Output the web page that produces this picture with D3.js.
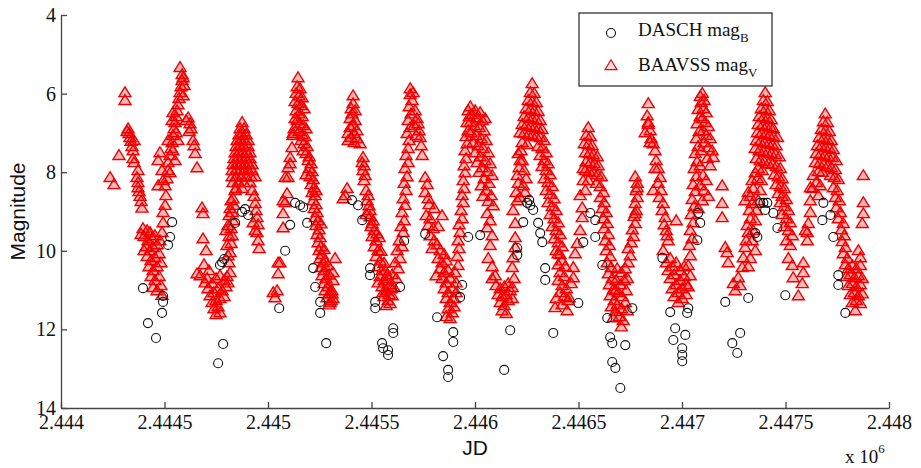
<!DOCTYPE html>
<html>
<head>
<meta charset="utf-8">
<script src="https://cdn.jsdelivr.net/npm/d3@7"></script>
<style>
  body { margin: 0; background: #fff; }
</style>
</head>
<body>
<div id="chart"></div>
<script>
// tick values / labels
var xTicks = [2444000, 2444500, 2445000, 2445500, 2446000, 2446500, 2447000, 2447500, 2448000];
var xTickLabels = ["2.444", "2.4445", "2.445", "2.4455", "2.446", "2.4465", "2.447", "2.4475", "2.448"];
var yTicks = [4, 6, 8, 10, 12, 14];

// legend text: [main, subscript]
var legendLabels = [["DASCH mag", "B"], ["BAAVSS mag", "V"]];

// DASCH photographic magnitudes [JD, mag]
var daschPoints = [
  [2444537,9.27],[2444527,9.65],[2444517,9.85],[2444396,10.95],[2444493,11.15],[2444493,11.3],[2444488,11.58],[2444420,11.84],[2444459,12.22],
  [2444778,10.29],[2444768,10.36],[2444788,10.21],[2444783,12.37],[2444759,12.86],
  [2444875,9.01],[2444904,9.09],[2444841,9.29],[2444889,8.94],
  [2445054,11.46],[2445083,10.0],[2445107,9.34],[2445131,8.78],[2445155,8.84],[2445170,8.89],[2445189,9.29],[2445218,10.44],[2445228,10.92],[2445252,11.3],[2445252,11.58],[2445281,12.35],
  [2445406,8.71],[2445435,8.84],[2445455,9.22],[2445493,10.44],[2445493,10.62],[2445518,11.3],[2445518,11.46],[2445605,11.97],[2445605,12.09],[2445551,12.35],[2445556,12.48],[2445580,12.53],[2445580,12.65],[2445638,10.92],[2445658,9.75],
  [2445759,9.57],[2445817,11.69],[2445846,12.68],[2445870,13.03],[2445870,13.21],[2445895,12.32],[2445895,12.07],[2445928,11.18],[2445938,10.87],[2445967,9.65],[2446025,9.6],
  [2446170,12.02],[2446141,13.03],[2446204,9.93],[2446204,10.11],[2446252,8.78],[2446267,8.84],[2446281,8.96],[2446262,8.71],[2446233,9.27],[2446305,9.29],[2446315,9.55],[2446325,9.78],[2446339,10.44],[2446339,10.74],[2446378,12.09],[2446499,11.33],
  [2446557,9.04],[2446581,9.22],[2446581,9.65],[2446523,9.78],[2446615,10.36],[2446639,11.71],[2446653,12.2],[2446663,12.35],[2446663,12.83],[2446678,12.98],[2446702,13.49],[2446726,12.4],[2446760,11.46],
  [2446905,10.18],[2446943,11.56],[2446967,11.97],[2447016,12.14],[2447030,11.46],[2447025,11.58],[2447001,12.48],[2447001,12.65],[2447001,12.81],[2446958,12.27],[2447074,9.73],[2447078,9.04],[2447088,9.29],
  [2447209,11.3],[2447243,12.35],[2447281,12.09],[2447267,12.6],[2447320,11.2],[2447364,9.65],
  [2447378,8.78],[2447393,8.78],[2447412,8.78],[2447402,8.96],[2447441,9.04],[2447461,9.42],[2447354,9.55],[2447499,11.13],
  [2447683,8.78],[2447717,9.09],[2447678,9.22],[2447731,9.65],[2447755,10.62],[2447755,10.87],[2447789,11.58]
];

// BAAVSS visual magnitudes [JD, mag]
var baavssPoints = [
  [2444237,8.12],[2444256,8.3],[2444280,7.56],[2444309,5.96],[2444309,6.16],[2444324,6.88],[2444329,7.0],[2444333,7.1],[2444338,7.2],[2444343,7.33],[2444348,7.44],[2444348,7.64],[2444353,7.74],[2444372,7.94],[2444367,8.12],[2444372,8.25],[2444372,8.38],[2444377,8.48],[2444382,8.6],[2444387,8.73],[2444391,8.9],[2444319,6.95],[2444353,7.18],
  [2444396,9.42],[2444416,9.47],[2444430,9.52],[2444401,9.62],[2444420,9.73],[2444440,9.68],[2444454,9.6],[2444411,9.88],[2444430,9.98],[2444445,9.9],[2444464,9.83],[2444478,9.73],[2444416,10.13],[2444435,10.23],[2444454,10.16],[2444474,10.06],[2444425,10.39],[2444445,10.49],[2444464,10.39],[2444483,10.29],[2444435,10.64],[2444454,10.74],[2444474,10.64],[2444445,10.92],[2444464,11.0],[2444483,10.87],[2444488,11.12],[2444401,9.98],[2444387,9.57],
  [2444488,9.52],[2444493,9.27],[2444493,9.01],[2444503,8.83],[2444507,8.58],[2444503,8.33],[2444512,8.15],[2444517,7.94],[2444517,7.74],[2444527,7.56],[2444532,7.38],[2444537,7.23],[2444541,7.05],[2444546,6.88],[2444551,6.72],[2444556,6.57],[2444561,6.42],[2444565,6.27],[2444570,6.11],[2444575,5.96],[2444580,5.81],[2444585,5.65],[2444585,5.5],[2444575,5.32],[2444590,5.58],[2444595,5.78],[2444590,6.04],[2444556,6.98],[2444565,7.18],[2444541,7.44],[2444551,7.69],[2444527,8.0],[2444478,7.49],[2444469,7.69],[2444488,7.94],[2444493,8.2],[2444469,8.33],[2444517,7.18],[2444537,6.67],[2444541,6.47],
  [2444614,6.6],[2444623,6.75],[2444628,6.88],[2444638,7.18],[2444643,7.31],[2444648,7.51],[2444657,7.87],[2444604,6.67],[2444619,6.95],[2444681,8.89],[2444686,9.04],[2444686,9.68],[2444701,9.98],[2444706,10.69],
  [2444672,10.62],[2444696,10.8],[2444710,10.95],[2444730,10.82],[2444749,10.69],[2444768,10.62],[2444788,10.74],[2444802,10.64],[2444720,11.13],[2444739,11.05],[2444759,10.95],[2444778,11.0],[2444797,10.9],[2444730,11.3],[2444749,11.25],[2444768,11.2],[2444788,11.15],[2444739,11.46],[2444759,11.41],[2444749,11.61],[2444768,11.56],[2444807,10.8],[2444817,10.54],[2444715,10.49],[2444657,10.57],[2444691,10.34],
  [2444812,10.29],[2444817,10.03],[2444822,9.8],[2444827,9.6],[2444822,9.42],[2444831,9.22],[2444827,9.01],[2444836,8.83],[2444831,8.66],[2444841,8.45],[2444807,10.11],[2444802,9.85],[2444812,9.62],[2444807,9.34],[2444812,9.09],[2444817,8.91],[2444822,8.71],[2444797,9.47],
  [2444875,6.72],[2444865,6.88],[2444884,6.88],[2444860,7.03],[2444875,7.03],[2444894,7.03],[2444851,7.18],[2444870,7.18],[2444889,7.18],[2444904,7.18],[2444846,7.33],[2444865,7.33],[2444884,7.33],[2444904,7.33],[2444841,7.49],[2444860,7.49],[2444879,7.49],[2444899,7.49],[2444913,7.49],[2444836,7.64],[2444855,7.64],[2444875,7.64],[2444894,7.64],[2444913,7.64],[2444831,7.79],[2444851,7.79],[2444870,7.79],[2444889,7.79],[2444908,7.79],[2444923,7.79],[2444827,7.94],[2444846,7.94],[2444865,7.94],[2444884,7.94],[2444904,7.94],[2444923,7.94],[2444827,8.1],[2444846,8.1],[2444870,8.1],[2444894,8.1],[2444918,8.1],[2444938,8.1],[2444831,8.25],[2444855,8.25],[2444884,8.25],[2444913,8.25],[2444846,8.4],[2444875,8.4],
  [2444923,8.45],[2444933,8.6],[2444938,8.78],[2444942,8.96],[2444947,9.14],[2444952,9.32],[2444947,9.52],[2444952,9.73],[2444957,9.93],[2444938,9.47],[2444928,9.27],
  [2445025,11.05],[2445034,11.18],[2445044,11.0],[2445049,10.57],[2445049,10.29],[2445058,10.29],[2445073,9.4],[2445073,9.04],[2445083,8.76],[2445073,8.71],[2445092,8.53],[2445083,8.12],[2445097,8.12],[2445097,7.87],[2445107,7.77],[2445107,7.61],[2445116,7.36],[2445121,7.05],[2445121,7.0],
  [2445145,5.58],[2445141,5.81],[2445155,5.86],[2445136,5.98],[2445150,6.04],[2445165,6.09],[2445131,6.19],[2445145,6.24],[2445160,6.29],[2445174,6.37],[2445136,6.42],[2445150,6.5],[2445165,6.57],[2445141,6.67],[2445155,6.75],[2445170,6.8],[2445184,6.88],[2445150,6.95],[2445165,7.03],[2445179,7.08],[2445160,7.18],[2445174,7.26],[2445189,7.33],[2445170,7.44],[2445184,7.51],[2445199,7.59],[2445126,6.88],[2445131,6.62],
  [2445194,7.69],[2445208,7.77],[2445199,7.89],[2445213,7.97],[2445203,8.1],[2445218,8.17],[2445208,8.3],[2445223,8.38],[2445213,8.5],[2445228,8.58],[2445218,8.71],[2445232,8.81],[2445223,8.91],[2445237,9.01],[2445228,9.14],[2445242,9.22],[2445232,9.34],[2445247,9.45],[2445237,9.57],[2445252,9.65],[2445242,9.78],[2445256,9.88],[2445247,9.98],[2445261,10.08],[2445252,10.18],[2445266,10.29],[2445256,10.41],[2445271,10.49],[2445261,10.62],[2445280,10.69],[2445271,10.82],[2445290,10.9],[2445276,11.0],[2445295,11.08],[2445285,11.18],[2445305,11.25],[2445295,11.36],[2445314,11.2],[2445276,10.24],[2445324,10.18],[2445290,10.36],[2445314,10.74],
  [2445184,8.05],[2445232,8.45],[2445256,9.3],[2445271,9.95],[2445295,10.6],[2445309,11.0],[2445314,10.54],[2445310,11.08],[2445300,11.3],
  [2445382,8.4],[2445363,8.66],[2445373,8.58],[2445411,6.04],[2445411,6.24],[2445402,6.37],[2445421,6.42],[2445406,6.5],[2445397,6.62],[2445421,6.67],[2445411,6.8],[2445397,6.85],[2445430,6.93],[2445387,7.0],[2445416,7.0],[2445402,7.1],[2445430,7.13],[2445387,7.18],[2445416,7.23],[2445445,7.26],
  [2445459,7.61],[2445455,7.74],[2445464,7.82],[2445459,7.94],[2445469,8.07],[2445464,8.2],[2445474,8.45],[2445484,8.58],[2445479,8.71],[2445488,8.84],[2445493,8.96],
  [2445493,9.12],[2445508,9.22],[2445498,9.37],[2445513,9.47],[2445503,9.62],[2445522,9.73],[2445513,9.88],[2445532,9.98],[2445522,10.13],[2445542,10.24],[2445532,10.39],[2445551,10.49],[2445542,10.64],[2445561,10.74],[2445551,10.9],[2445571,11.0],[2445561,11.15],[2445580,11.25],[2445571,11.38],[2445590,11.33],[2445600,11.13],[2445609,10.92],[2445590,10.85],[2445619,10.69],[2445600,10.59],[2445629,10.44],[2445614,10.29],[2445638,10.18],[2445624,9.98],[2445648,9.88],[2445634,9.73],[2445580,10.69],[2445566,10.49],[2445532,10.8],[2445556,11.05],[2445537,9.65],[2445474,9.06],
  [2445503,9.3],[2445527,9.55],[2445546,10.0],[2445561,10.3],[2445575,10.6],[2445595,10.95],[2445585,11.1],
  [2445653,9.52],[2445643,9.37],[2445658,9.22],[2445648,9.01],[2445662,8.83],[2445653,8.66],[2445667,8.45],[2445658,8.27],[2445672,8.1],[2445662,7.89],[2445677,7.74],[2445667,7.56],[2445677,7.38],[2445682,7.18],[2445672,7.0],[2445687,6.85],[2445677,6.67],[2445691,6.5],[2445682,6.32],[2445696,6.16],[2445687,6.01],[2445687,5.86],[2445701,5.96],
  [2445711,6.42],[2445720,6.62],[2445725,6.75],[2445730,6.93],[2445735,7.1],[2445740,7.31],[2445745,7.56],[2445706,6.8],[2445716,7.05],
  [2445759,8.12],[2445769,8.3],[2445759,8.5],[2445774,8.66],[2445778,8.81],[2445803,8.91],[2445764,9.09],[2445783,9.17],[2445774,9.34],[2445798,9.42],[2445783,9.6],[2445803,9.73],[2445817,9.83],[2445793,9.93],[2445822,9.37],[2445841,9.09],
  [2445832,9.98],[2445851,10.08],[2445822,10.18],[2445841,10.29],[2445861,10.24],[2445832,10.44],[2445851,10.54],[2445870,10.49],[2445841,10.69],[2445861,10.8],[2445880,10.69],[2445851,10.95],[2445870,11.05],[2445890,10.95],[2445861,11.2],[2445880,11.3],[2445899,11.2],[2445870,11.46],[2445890,11.56],[2445861,11.66],[2445880,11.71],[2445899,11.41],[2445909,11.05],[2445812,10.62],
  [2445909,10.8],[2445904,10.54],[2445918,10.36],[2445914,10.13],[2445923,9.93],[2445918,9.73],[2445928,9.52],[2445923,9.32],[2445938,9.17],[2445933,8.96],[2445943,8.76],[2445938,8.58],[2445947,8.4],[2445943,8.2],[2445952,8.0],[2445947,7.82],[2445957,7.64],[2445952,7.44],[2445962,7.26],[2445957,7.08],[2445967,6.93],[2445962,6.72],[2445972,6.57],[2445967,6.42],[2445977,6.32],
  [2446001,6.42],[2446025,6.47],[2445986,6.52],[2446010,6.6],[2446035,6.67],[2445977,6.72],[2445996,6.8],[2446020,6.85],[2446044,6.93],[2445981,6.98],[2446006,7.05],[2446030,7.13],[2446054,7.18],[2445991,7.23],[2446015,7.31],[2446039,7.38],[2446064,7.49],[2446001,7.49],[2446025,7.59],[2446049,7.69],[2446073,7.77],[2446010,7.74],[2446035,7.87],[2446059,7.97],[2446083,8.07],[2446020,7.99],[2446044,8.15],[2446068,8.27],[2446030,8.33],[2446054,8.45],[2446078,8.58],[2446039,8.6],[2446064,8.73],[2446088,8.84],[2446059,9.04],[2446059,9.4],[2446073,9.22],[2446049,6.62],
  [2446083,9.6],[2446073,9.85],[2446064,10.18],[2446083,10.39],[2446098,10.62],[2446083,10.69],
  [2446102,10.87],[2446122,10.95],[2446141,10.9],[2446160,10.82],[2446112,11.1],[2446131,11.15],[2446151,11.1],[2446170,11.0],[2446122,11.3],[2446141,11.38],[2446160,11.25],[2446131,11.51],[2446151,11.58],[2446180,11.2],
  [2446180,10.92],[2446189,10.69],[2446180,10.41],[2446184,10.16],[2446194,9.9],[2446194,9.65],[2446194,9.29],[2446184,8.96],[2446204,8.71],[2446199,8.5],[2446209,8.27],[2446204,8.07],[2446213,7.87],[2446218,7.69],[2446209,7.51],[2446223,7.44],[2446228,7.69],[2446237,7.94],[2446247,8.15],[2446233,8.33],[2446242,8.5],[2446218,8.63],
  [2446276,5.73],[2446267,5.96],[2446286,5.98],[2446257,6.16],[2446276,6.19],[2446296,6.21],[2446247,6.37],[2446267,6.39],[2446286,6.42],[2446305,6.44],[2446237,6.57],[2446257,6.6],[2446276,6.62],[2446296,6.65],[2446315,6.67],[2446228,6.77],[2446247,6.8],[2446267,6.82],[2446286,6.85],[2446305,6.88],[2446324,6.9],[2446218,6.98],[2446237,7.0],[2446257,7.03],[2446276,7.05],[2446296,7.08],[2446315,7.1],[2446334,7.18],[2446228,7.23],[2446252,7.28],[2446305,7.33],[2446324,7.38],
  [2446344,7.49],[2446315,7.56],[2446334,7.69],[2446353,7.77],[2446324,7.84],[2446344,7.94],[2446363,8.05],[2446334,8.15],[2446353,8.25],[2446373,8.35],[2446344,8.45],[2446363,8.55],[2446382,8.66],[2446353,8.76],[2446373,8.86],[2446392,8.96],[2446363,9.06],[2446382,9.17],[2446402,9.27],[2446373,9.37],[2446392,9.47],[2446411,9.57],[2446382,9.68],[2446402,9.78],[2446421,9.88],[2446392,9.98],[2446411,10.08],[2446402,10.06],[2446421,10.24],[2446402,10.34],[2446436,10.39],[2446411,10.54],[2446431,10.64],[2446402,10.74],[2446421,10.87],[2446441,10.95],[2446411,11.05],[2446431,11.15],[2446450,11.25],[2446392,11.2],[2446387,11.43],[2446421,11.36],[2446445,11.51],[2446455,11.18],[2446465,10.82],
  [2446484,10.06],[2446475,10.41],[2446475,10.67],[2446494,9.8],[2446508,9.47],[2446518,9.14],[2446518,8.89],[2446523,8.2],[2446523,7.89],[2446508,8.58],[2446533,8.45],
  [2446547,6.85],[2446537,7.05],[2446557,7.08],[2446528,7.26],[2446547,7.28],[2446566,7.31],[2446533,7.49],[2446552,7.51],[2446571,7.54],[2446591,7.59],[2446537,7.72],[2446557,7.74],[2446576,7.77],[2446595,7.82],[2446533,7.94],[2446552,7.97],[2446571,7.99],[2446591,8.05],[2446610,8.1],[2446547,8.2],[2446586,8.27],[2446605,8.35],
  [2446620,8.5],[2446605,8.63],[2446624,8.76],[2446615,8.91],[2446634,9.01],[2446620,9.17],[2446639,9.29],[2446624,9.42],[2446644,9.57],[2446629,9.73],[2446649,9.85],[2446634,9.98],[2446653,10.13],[2446639,10.29],[2446658,10.41],[2446644,10.57],[2446663,10.69],[2446649,10.85],[2446668,10.97],[2446653,11.13],[2446673,11.25],[2446658,11.41],[2446678,11.53],[2446668,11.69],
  [2446687,10.44],[2446707,10.54],[2446726,10.44],[2446682,10.74],[2446702,10.85],[2446721,10.74],[2446692,11.05],[2446711,11.15],[2446731,11.0],[2446687,11.36],[2446707,11.46],[2446726,11.3],[2446697,11.66],[2446716,11.76],[2446707,11.92],[2446736,11.51],[2446736,10.69],[2446678,11.0],
  [2446740,10.29],[2446750,10.11],[2446740,9.93],[2446755,9.78],[2446765,9.62],[2446760,9.45],[2446774,9.29],[2446769,9.11],[2446779,8.96],[2446774,8.78],[2446784,8.63],[2446779,8.45],[2446784,8.27],[2446774,8.1],[2446784,8.38],[2446774,9.04],
  [2446837,6.24],[2446832,6.55],[2446837,6.72],[2446822,6.98],[2446846,6.93],[2446837,6.77],[2446861,7.26],[2446870,7.44],[2446851,7.13],[2446875,7.69],[2446870,7.89],[2446895,8.12],[2446899,8.45],[2446861,8.45],[2446909,8.78],[2446919,9.14],[2446972,9.22],[2446924,9.47],[2446933,9.73],[2446909,9.98],[2446885,8.27],[2446890,8.63],[2446904,8.96],[2446914,9.32],[2446928,9.6],[2446846,7.23],[2446885,7.89],
  [2446924,10.29],[2446943,10.18],[2446933,10.49],[2446953,10.39],[2446972,10.29],[2446943,10.69],[2446962,10.59],[2446991,10.49],[2447011,10.39],[2446953,10.95],[2446972,10.85],[2446991,10.74],[2447011,10.64],[2446962,11.15],[2446982,11.05],[2447001,10.95],[2447020,10.85],[2446982,11.3],[2447001,11.2],[2447020,11.1],[2447030,10.9],
  [2447040,10.62],[2447030,10.36],[2447040,10.11],[2447035,9.85],[2447049,9.68],[2447040,9.47],[2447054,9.27],[2447044,9.06],[2447059,8.86],[2447049,8.68],[2447064,8.48],[2447054,8.3],[2447069,8.1],[2447059,7.89],[2447073,7.72],[2447064,7.51],[2447078,7.33],[2447069,7.13],[2447083,6.95],[2447073,6.75],[2447088,6.57],[2447078,6.39],[2447093,6.21],[2447098,5.98],[2447088,6.06],[2447107,6.16],[2447102,6.37],[2447117,6.47],[2447098,6.62],[2447112,6.72],[2447127,6.82],[2447102,6.93],[2447117,7.05],[2447136,7.13],[2447107,7.23],[2447127,7.36],[2447146,7.44],[2447151,7.61],[2447122,7.64],[2447136,7.82],[2447093,7.44],[2447088,7.82],[2447102,8.07],[2447117,8.2],[2447088,8.33],[2447107,8.45],[2447127,8.6],[2447098,8.71],[2447078,8.91],
  [2447194,8.33],[2447194,8.78],[2447194,9.14],[2447209,9.9],[2447218,10.03],[2447223,10.29],[2447248,10.82],[2447272,10.67],[2447291,10.41],[2447296,10.16],[2447305,9.9],[2447257,11.0],[2447281,10.87],
  [2447310,9.73],[2447320,9.52],[2447315,9.34],[2447330,9.17],[2447325,8.96],[2447339,8.78],[2447330,8.6],[2447344,8.4],[2447339,8.2],[2447354,8.0],[2447320,8.5],[2447305,8.71],
  [2447402,5.96],[2447393,6.16],[2447412,6.19],[2447383,6.37],[2447402,6.39],[2447422,6.42],[2447373,6.57],[2447393,6.6],[2447412,6.62],[2447431,6.65],[2447368,6.77],[2447388,6.8],[2447407,6.82],[2447427,6.85],[2447441,6.88],[2447364,6.98],[2447383,7.0],[2447402,7.03],[2447422,7.05],[2447441,7.08],[2447461,7.1],[2447359,7.18],[2447378,7.21],[2447397,7.23],[2447417,7.26],[2447436,7.28],[2447455,7.31],[2447354,7.38],[2447373,7.44],[2447393,7.46],[2447412,7.49],[2447431,7.51],[2447451,7.54],[2447470,7.59],[2447359,7.64],[2447378,7.69],[2447397,7.72],[2447417,7.77],[2447436,7.79],[2447455,7.84],[2447475,7.89],[2447368,7.89],[2447388,7.94],[2447446,8.05],[2447465,8.1],[2447484,8.15],[2447364,8.15],[2447383,8.2],[2447455,8.3],[2447475,8.35],[2447494,8.4],[2447378,8.45],[2447465,8.53],[2447484,8.6],[2447504,8.68],[2447368,8.71],[2447475,8.76],[2447494,8.86],[2447514,8.96],[2447359,8.96],[2447484,9.06],[2447504,9.17],[2447523,9.27],[2447354,9.22],[2447494,9.37],[2447514,9.47],[2447533,9.6],[2447344,9.47],[2447504,9.73],[2447523,9.85],[2447339,9.73],[2447354,9.98],[2447330,10.18],[2447320,10.39],
  [2447514,10.18],[2447537,10.67],[2447562,11.13],[2447586,10.29],[2447586,10.54],[2447581,10.82],[2447533,10.36],
  [2447596,9.47],[2447605,9.73],[2447605,9.52],[2447610,9.29],[2447620,9.01],[2447630,8.4],[2447620,8.38],[2447620,8.71],[2447634,8.07],
  [2447692,6.5],[2447683,6.7],[2447702,6.72],[2447673,6.9],[2447692,6.93],[2447712,6.95],[2447663,7.1],[2447683,7.13],[2447702,7.16],[2447721,7.18],[2447654,7.31],[2447673,7.33],[2447692,7.36],[2447712,7.38],[2447731,7.41],[2447649,7.51],[2447668,7.54],[2447688,7.56],[2447707,7.59],[2447726,7.61],[2447745,7.69],[2447644,7.74],[2447663,7.77],[2447683,7.79],[2447702,7.84],[2447721,7.87],[2447741,7.92],[2447659,7.97],[2447678,7.99],[2447717,8.07],[2447736,8.12],[2447755,8.17],[2447649,8.25],[2447668,8.33],[2447731,8.38],[2447750,8.45],[2447659,8.58],[2447741,8.63],[2447760,8.71],[2447745,8.89],[2447765,9.01],[2447755,9.17],[2447779,9.29],[2447770,9.45],[2447784,9.6],[2447774,9.75],[2447789,9.9],[2447779,10.06],[2447799,10.18],[2447789,10.34],
  [2447804,10.44],[2447823,10.36],[2447842,10.44],[2447862,10.36],[2447794,10.64],[2447813,10.59],[2447833,10.67],[2447852,10.62],[2447871,10.69],[2447804,10.87],[2447823,10.82],[2447842,10.9],[2447862,10.85],[2447813,11.1],[2447833,11.05],[2447852,11.13],[2447871,11.08],[2447823,11.3],[2447842,11.25],[2447862,11.33],[2447837,11.51],[2447852,9.98],[2447862,10.16],
  [2447876,8.07],[2447876,8.76],[2447876,9.04],[2447871,9.29]
];

var svgWidth = 921;
var svgHeight = 468;

var margin = {top: 15, right: 32, bottom: 60, left: 61};
var width = svgWidth - margin.left - margin.right;
var height = svgHeight - margin.top - margin.bottom;

var svg = d3.select("#chart")
    .append("svg")
    .attr("width", svgWidth)
    .attr("height", svgHeight)
    .style("background", "#fff");

var chartGroup = svg.append("g")
    .attr("transform", `translate(${margin.left}, ${margin.top})`);

var xScale = d3.scaleLinear()
    .domain([xTicks[0], xTicks[xTicks.length - 1]])
    .range([0, width]);

var yScale = d3.scaleLinear()
    .domain([yTicks[0], yTicks[yTicks.length - 1]])
    .range([0, height]);

// matlab style: ticks point inward
var bottomAxis = d3.axisBottom(xScale)
    .tickValues(xTicks)
    .tickFormat((d, i) => xTickLabels[i])
    .tickSizeInner(-6)
    .tickSizeOuter(0)
    .tickPadding(7);

var leftAxis = d3.axisLeft(yScale)
    .tickValues(yTicks)
    .tickFormat(d3.format("d"))
    .tickSizeInner(-6)
    .tickSizeOuter(0)
    .tickPadding(5);

var triPath = "M0,-5.2L6,4.6L-6,4.6Z";

// BAAVSS triangles
chartGroup.append("g")
    .selectAll("path")
    .data(baavssPoints)
    .enter()
    .append("path")
    .attr("d", triPath)
    .attr("transform", d => `translate(${xScale(d[0])}, ${yScale(d[1])})`)
    .attr("fill", "rgba(255,0,0,0.28)")
    .attr("stroke", "#f00000")
    .attr("stroke-width", 1.4);

// DASCH circles
chartGroup.append("g")
    .selectAll("circle")
    .data(daschPoints)
    .enter()
    .append("circle")
    .attr("cx", d => xScale(d[0]))
    .attr("cy", d => yScale(d[1]))
    .attr("r", 4.5)
    .attr("fill", "none")
    .attr("stroke", "#111")
    .attr("stroke-width", 1.1);

var xAxisG = chartGroup.append("g")
    .attr("transform", `translate(0, ${height})`)
    .call(bottomAxis);

var yAxisG = chartGroup.append("g")
    .call(leftAxis);

[xAxisG, yAxisG].forEach(function(g) {
    g.attr("font-family", "'Liberation Serif', 'Times New Roman', serif")
     .attr("font-size", 20);
    g.selectAll("path, line").attr("stroke", "#444").attr("stroke-width", 1.3);
    g.selectAll("text").attr("fill", "#111");
});

// axis titles
svg.append("text")
    .attr("transform", `translate(25, ${margin.top + height / 2}) rotate(-90)`)
    .attr("text-anchor", "middle")
    .attr("font-family", "'Liberation Sans', Arial, sans-serif")
    .attr("font-size", 21)
    .attr("fill", "#111")
    .text("Magnitude");

svg.append("text")
    .attr("x", margin.left + width / 2)
    .attr("y", 455)
    .attr("text-anchor", "middle")
    .attr("font-family", "'Liberation Sans', Arial, sans-serif")
    .attr("font-size", 21)
    .attr("fill", "#111")
    .text("JD");

var expo = svg.append("text")
    .attr("x", 845)
    .attr("y", 463)
    .attr("font-family", "'Liberation Serif', 'Times New Roman', serif")
    .attr("font-size", 19)
    .attr("fill", "#111")
    .text("x 10");
expo.append("tspan")
    .attr("dy", -10)
    .attr("font-size", 13)
    .text("6");

// legend
var legend = svg.append("g");
legend.append("rect")
    .attr("x", 579)
    .attr("y", 13)
    .attr("width", 193)
    .attr("height", 73)
    .attr("fill", "#fff")
    .attr("stroke", "#333")
    .attr("stroke-width", 1.3);

legend.append("circle")
    .attr("cx", 611)
    .attr("cy", 33)
    .attr("r", 4.5)
    .attr("fill", "none")
    .attr("stroke", "#111")
    .attr("stroke-width", 1.1);

legend.append("path")
    .attr("d", triPath)
    .attr("transform", "translate(611, 65)")
    .attr("fill", "rgba(255,0,0,0.15)")
    .attr("stroke", "#d01010")
    .attr("stroke-width", 1.2);

legendLabels.forEach(function(lbl, i) {
    var t = legend.append("text")
        .attr("x", 638)
        .attr("y", 36 + i * 35)
        .attr("font-family", "'Liberation Serif', 'Times New Roman', serif")
        .attr("font-size", 19)
        .attr("fill", "#111")
        .text(lbl[0]);
    t.append("tspan")
        .attr("dy", 6)
        .attr("font-size", 13)
        .text(lbl[1]);
});
</script>
</body>
</html>
